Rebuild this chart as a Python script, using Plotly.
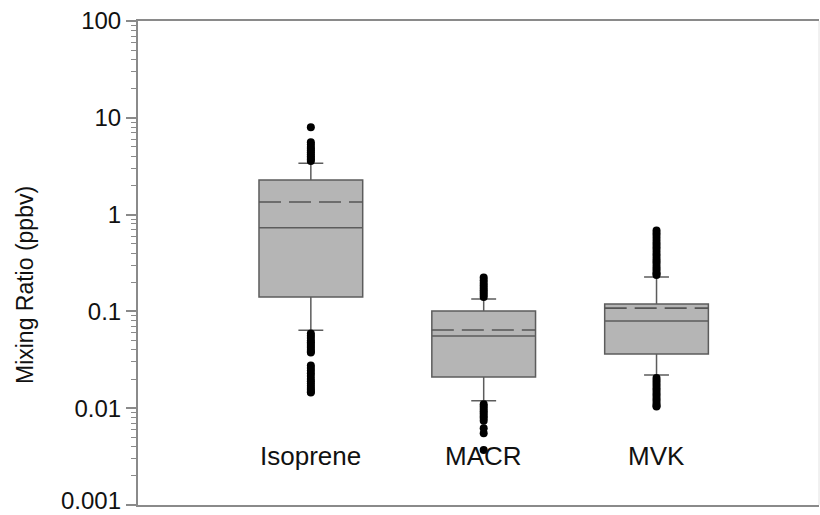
import plotly.graph_objects as go

# ---- data ----
categories = ["Isoprene", "MACR", "MVK"]
q1 = [0.141, 0.0210, 0.0363]
median = [0.73, 0.0557, 0.0796]
q3 = [2.28, 0.101, 0.119]
mean = [1.35, 0.0643, 0.108]
lower_whisker = [0.064, 0.0119, 0.0220]
upper_whisker = [3.4, 0.134, 0.227]

outliers_isoprene = [8.0, 5.6, 5.3, 5.0, 4.8, 4.6, 4.4, 4.2, 4.0, 3.85, 3.7, 3.58,
                     0.059, 0.056, 0.053, 0.050, 0.048, 0.046, 0.044, 0.042, 0.040, 0.0385, 0.0376,
                     0.0276, 0.026, 0.0245, 0.023, 0.0215, 0.020, 0.019, 0.018, 0.017,
                     0.0162, 0.0155, 0.0148, 0.0145]
outliers_macr = [0.224, 0.21, 0.197, 0.185, 0.174, 0.165, 0.157, 0.149, 0.141,
                 0.0110, 0.0104, 0.0098, 0.0093, 0.0088, 0.0083, 0.0079, 0.0074,
                 0.0062, 0.0055, 0.0037]
outliers_mvk = [0.685, 0.64, 0.60, 0.56, 0.52, 0.49, 0.46, 0.43, 0.40, 0.375, 0.35,
                0.33, 0.31, 0.29, 0.272, 0.256, 0.245, 0.238,
                0.0205, 0.0193, 0.0182, 0.0171, 0.0161, 0.0151, 0.0142, 0.0134,
                0.0126, 0.0119, 0.0112, 0.0106, 0.0104]
outliers = [outliers_isoprene, outliers_macr, outliers_mvk]

y_tick_values = [0.001, 0.01, 0.1, 1, 10, 100]
y_tick_labels = ["0.001", "0.01", "0.1", "1", "10", "100"]

# ---- style ----
FONT = "Liberation Sans, Arial, sans-serif"
BOX_W = 0.6
AXIS_COLOR = "#8a8a8a"
BOX_LINE = "#5c5c5c"
BOX_FILL = "#b5b5b5"
TEXT = "#111111"
L_MARGIN, PLOT_W = 138, 681

fig = go.Figure()
positions = list(range(len(categories)))

for i, cat in enumerate(categories):
    fig.add_trace(go.Box(
        x=[positions[i]], q1=[q1[i]], median=[median[i]], q3=[q3[i]],
        lowerfence=[lower_whisker[i]], upperfence=[upper_whisker[i]],
        width=BOX_W, whiskerwidth=0.24, fillcolor=BOX_FILL,
        line=dict(color=BOX_LINE, width=1.5), boxpoints=False,
        showlegend=False, name=cat, hoverinfo="skip",
    ))
    fig.add_trace(go.Scatter(
        x=[positions[i] - BOX_W / 2, positions[i] + BOX_W / 2], y=[mean[i], mean[i]],
        mode="lines", line=dict(color="#555555", width=1.6, dash="22px,8px"),
        showlegend=False, hoverinfo="skip",
    ))

for i, cat in enumerate(categories):
    fig.add_trace(go.Scatter(
        x=[positions[i]] * len(outliers[i]), y=outliers[i], mode="markers",
        marker=dict(color="black", size=8, symbol="circle"),
        showlegend=False, hoverinfo="skip",
    ))

for i, cat in enumerate(categories):
    fig.add_annotation(x=positions[i], xref="x", y=0.101, yref="paper", text=cat,
                       xanchor="center", yanchor="middle",
                       showarrow=False, font=dict(family=FONT, size=26, color=TEXT))

fig.add_annotation(x=(25 - L_MARGIN) / PLOT_W, xref="paper", y=0.4545, yref="paper",
                   text="Mixing Ratio (ppbv)", textangle=-90, showarrow=False,
                   xanchor="center", yanchor="middle",
                   font=dict(family=FONT, size=23, color=TEXT))

# lowest tick label sits at the very bottom edge: draw it as an annotation kept inside the page
axis_tick_text = [""] + y_tick_labels[1:]
fig.add_annotation(x=(122 - L_MARGIN) / PLOT_W, xref="paper", y=0, yref="paper",
                   yshift=-10, text=y_tick_labels[0], showarrow=False,
                   xanchor="right", yanchor="bottom", borderpad=0,
                   font=dict(family=FONT, size=24, color=TEXT))

minor_vals = [m * 10 ** e for e in range(-3, 2) for m in range(2, 10)]

fig.update_layout(
    width=820, height=515,
    margin=dict(l=L_MARGIN, r=1, t=21, b=10, autoexpand=False),
    paper_bgcolor="white", plot_bgcolor="white",
    font=dict(family=FONT, color=TEXT),
    xaxis=dict(range=[-1, 2.94], showticklabels=False, ticks="", showgrid=False,
               zeroline=False, showline=True, mirror=True, linecolor=AXIS_COLOR, linewidth=2,
               automargin=False),
    yaxis=dict(type="log", range=[-3.0005, 2.0005], tickvals=y_tick_values, ticktext=axis_tick_text,
               ticks="outside", ticklen=10, tickcolor=AXIS_COLOR, tickwidth=1.5,
               tickfont=dict(family=FONT, size=24, color=TEXT), ticklabeloverflow="allow",
               automargin=False,
               showgrid=False, zeroline=False, showline=True, linecolor=AXIS_COLOR, linewidth=2,
               minor=dict(tickvals=minor_vals, ticks="outside", ticklen=5,
                          tickcolor=AXIS_COLOR, tickwidth=1, showgrid=False)),
    shapes=[dict(type="line", xref="paper", yref="paper", x0=1, x1=1, y0=0, y1=1,
                 line=dict(color="#e2e2e2", width=1))],
)

fig.write_html("out.html")
